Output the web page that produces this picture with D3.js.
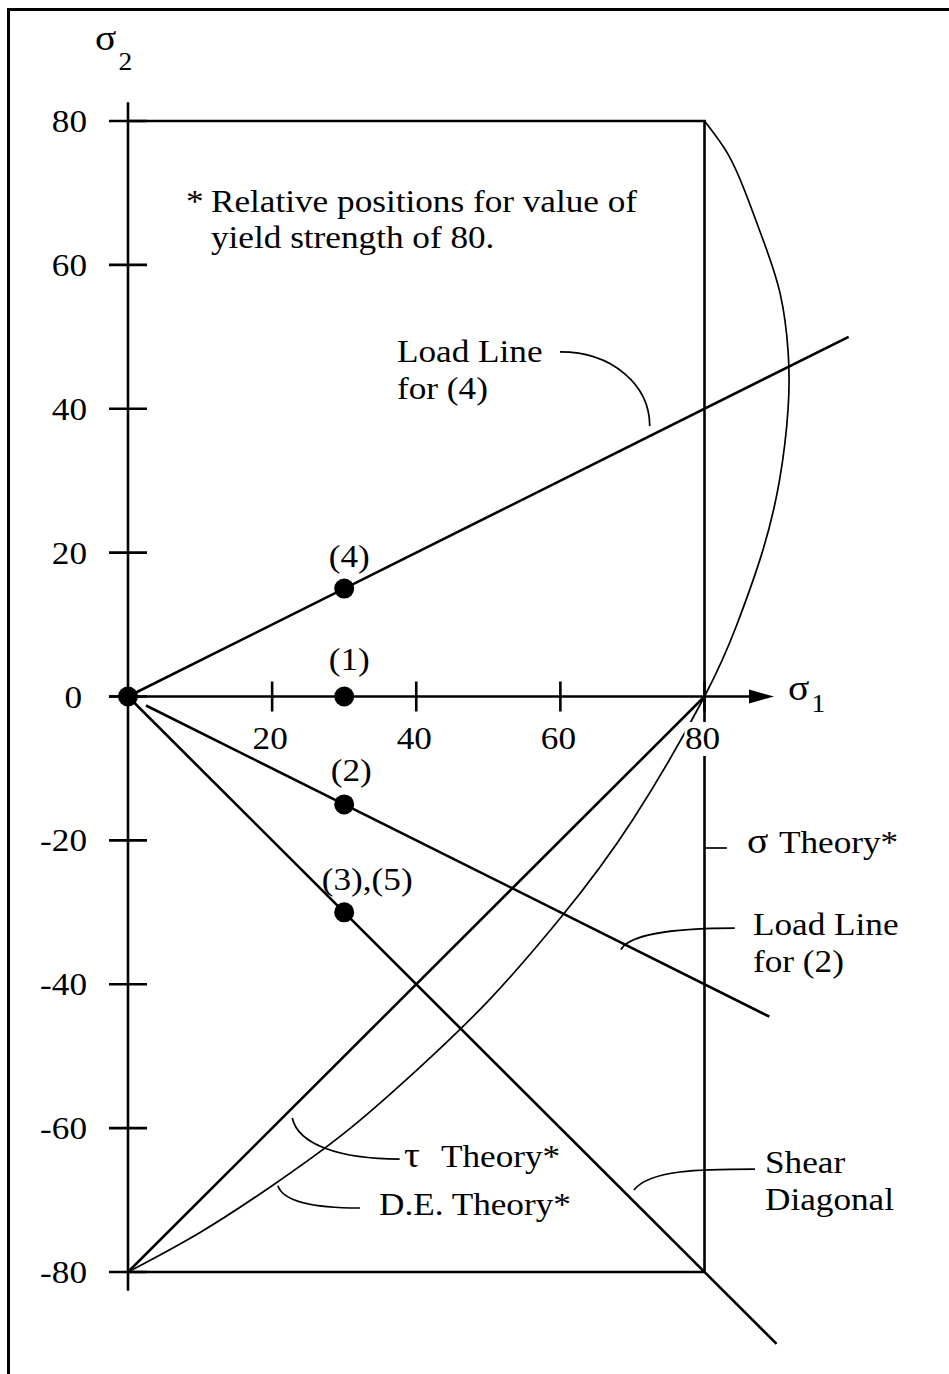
<!DOCTYPE html>
<html><head><meta charset="utf-8">
<script src="https://cdn.jsdelivr.net/npm/d3@7"></script>
<style>html,body{margin:0;padding:0;background:#fff;} svg{display:block;}</style>
</head><body><script>
// ---- data (stress units) ----
const xTicks = [20, 40, 60, 80];
const yTicks = [80, 60, 40, 20, 0, -20, -40, -60, -80];
const statePoints = [[0, 0], [30, 0], [30, 15], [30, -15], [30, -30]];
const pointLabels = [
  { x: 30, y: 15, text: "(4)" },
  { x: 30, y: 0, text: "(1)" },
  { x: 30, y: -15, text: "(2)" },
  { x: 30, y: -30, text: "(3),(5)" }
];
const loadLine4 = [[0, 0], [100, 50]];
const loadLine2 = [[2.5, -1.25], [89, -44.5]];
const shearDiagonal = [[0, 0], [90, -90]];
const tauTheory = [[0, -80], [80, 0]];
const sigmaTheory = [[0, 80], [80, 80], [80, -80], [0, -80]];
const deTheory = [[0, -80], [10, -74.5], [20, -68], [30, -60.7], [40, -52], [50, -42.3], [60, -30.8],
  [70, -17.2], [80, 0], [84.5, 10], [88, 20], [90.4, 30], [91.6, 40], [91.6, 48], [90.5, 56],
  [88.3, 63], [85.7, 70], [83.2, 75.5], [80, 80]];
// leader curves: start, control 1, control 2, end
const leaderLoad4 = [[59.95, 47.9], [67.2, 47.9], [72.4, 43.3], [72.4, 37.6]];
const leaderLoad2 = [[84.2, -32.2], [78.0, -32.2], [69.7, -32.7], [68.4, -35.2]];
const leaderTau = [[22.8, -58.6], [23.6, -62.3], [29.4, -64.3], [37.7, -64.3]];
const leaderDE = [[20.8, -68.0], [21.6, -70.4], [26.6, -71.1], [32.2, -71.1]];
const leaderShear = [[70.2, -68.6], [72.4, -65.8], [79.4, -65.7], [87.0, -65.7]];
const leaderSigma = [[80, -21.06], [83.1, -21.06]];

const W = 949, H = 1374;
const FONT = '"Liberation Serif","Times New Roman",Times,serif';
const FS = 32, SX = 1.1;

const x = d3.scaleLinear().domain([0, 80]).range([128, 704.5]);
const y = d3.scaleLinear().domain([80, -80]).range([121, 1272]);

const svg = d3.select("body").append("svg").attr("width", W).attr("height", H);

// outer frame (top and left edges)
svg.append("path").attr("d", `M8.5,${H}V9.5H${W}`).attr("fill", "none").attr("stroke", "#000").attr("stroke-width", 3);

const line = d3.line().x(d => x(d[0])).y(d => y(d[1]));
const thick = 2.6, thin = 1.7;

function text(t, px, py, opts = {}) {
  return svg.append("text")
    .attr("transform", `translate(${px},${py}) scale(${SX},1)`)
    .attr("font-family", FONT)
    .attr("font-size", opts.size || FS)
    .attr("text-anchor", opts.anchor || "start")
    .attr("fill", "#000")
    .text(t);
}
// symbol with a subscript, kept in one text element
function subscripted(sym, sub, px, py, drop) {
  const t = svg.append("text")
    .attr("transform", `translate(${px},${py}) scale(${SX},1)`)
    .attr("font-family", FONT).attr("font-size", 36).attr("fill", "#000");
  t.append("tspan").text(sym);
  t.append("tspan").attr("dx", 2).attr("dy", drop).attr("font-size", 25).text(sub);
  return t;
}

// axes
const ax = svg.append("g").attr("stroke", "#000").attr("stroke-width", thick).attr("fill", "none");
ax.append("line").attr("x1", x(0)).attr("x2", x(0)).attr("y1", y(82.6)).attr("y2", y(-82.6));
ax.append("line").attr("x1", x(-2.65)).attr("x2", 752).attr("y1", y(0)).attr("y2", y(0));
svg.append("path").attr("d", `M749,${y(0) - 7}L774,${y(0)}L749,${y(0) + 7}Z`).attr("fill", "#000");

// ticks cross their axis
yTicks.forEach(v => {
  ax.append("line").attr("x1", x(0) - 19).attr("x2", x(0) + 19).attr("y1", y(v)).attr("y2", y(v));
});
xTicks.forEach(v => {
  ax.append("line").attr("x1", x(v)).attr("x2", x(v)).attr("y1", y(0) - 15).attr("y2", y(0) + 15);
});

// sigma theory square
svg.append("path").attr("d", line(sigmaTheory)).attr("fill", "none").attr("stroke", "#000").attr("stroke-width", thick);

// straight lines
[loadLine4, loadLine2, shearDiagonal, tauTheory].forEach(seg => {
  svg.append("path").attr("d", line(seg)).attr("fill", "none").attr("stroke", "#000").attr("stroke-width", thick);
});

// distortion energy arc
svg.append("path").attr("d", d3.line().x(d => x(d[0])).y(d => y(d[1])).curve(d3.curveNatural)(deTheory))
  .attr("fill", "none").attr("stroke", "#000").attr("stroke-width", thin);

// leaders
function bez(pts) {
  const p = d3.path();
  p.moveTo(x(pts[0][0]), y(pts[0][1]));
  p.bezierCurveTo(x(pts[1][0]), y(pts[1][1]), x(pts[2][0]), y(pts[2][1]), x(pts[3][0]), y(pts[3][1]));
  return p.toString();
}
[leaderLoad4, leaderLoad2, leaderTau, leaderDE, leaderShear].forEach(l => {
  svg.append("path").attr("d", bez(l)).attr("fill", "none").attr("stroke", "#000").attr("stroke-width", thin);
});
svg.append("path").attr("d", line(leaderSigma)).attr("fill", "none").attr("stroke", "#000").attr("stroke-width", thin);

// state points
svg.selectAll("circle.pt").data(statePoints).join("circle")
  .attr("cx", d => x(d[0])).attr("cy", d => y(d[1])).attr("r", 10).attr("fill", "#000");

// y tick labels
yTicks.forEach(v => {
  text(String(v), v === 0 ? 82 : 87, y(v) + 11, { anchor: "end" });
});
// x tick labels on a white ground so the box edge breaks under them
xTicks.forEach(v => {
  svg.append("rect").attr("x", x(v) - 20).attr("y", 722).attr("width", 40).attr("height", 34).attr("fill", "#fff");
  text(String(v), x(v) - 2, 749, { anchor: "middle" });
});

// axis titles
subscripted("σ", "2", 95, 50, 20);
subscripted("σ", "1", 788, 700, 12);

// point labels
const labelShift = { "(1)": 5, "(2)": 7, "(4)": 5, "(3),(5)": 23 };
const labelRise = { "(1)": 27, "(2)": 23, "(4)": 22, "(3),(5)": 22 };
pointLabels.forEach(d => {
  text(d.text, x(d.x) + labelShift[d.text], y(d.y) - labelRise[d.text], { anchor: "middle" });
});

// note
text("*", 186, 212);
text("Relative positions for value of", 211, 212);
text("yield strength of 80.", 211, 248);

// annotations
text("Load Line", 397, 362);
text("for (4)", 397, 399);
text("σ", 747, 853, { size: 36 });
text("Theory*", 779, 853);
text("Load Line", 753, 935);
text("for (2)", 753, 972);
text("τ", 404, 1167, { size: 36 });
text("Theory*", 441, 1167);
text("D.E. Theory*", 379, 1215);
text("Shear", 765, 1173);
text("Diagonal", 765, 1210);
</script></body></html>
